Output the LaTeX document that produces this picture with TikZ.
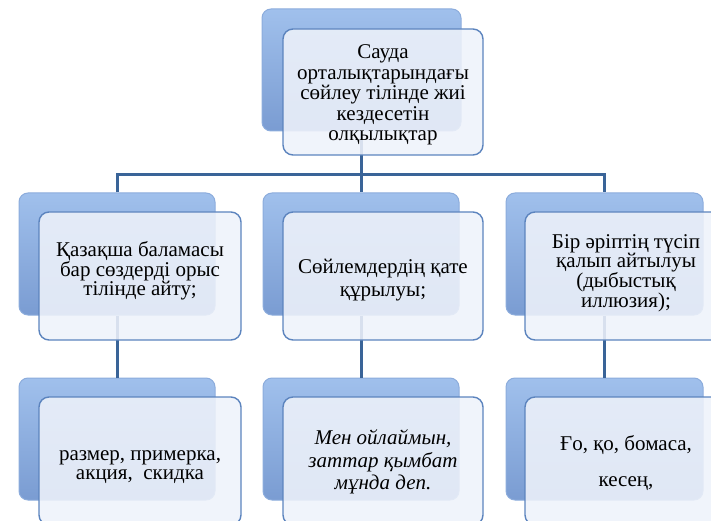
\documentclass[tikz,border=0pt]{standalone}
\usepackage{fontspec}
\setmainfont{Liberation Serif}
\definecolor{connc}{RGB}{58,100,152}
\definecolor{frontedge}{RGB}{92,132,190}
\definecolor{frontfill}{RGB}{238,242,250}
\definecolor{backtop}{RGB}{160,192,236}
\definecolor{backbot}{RGB}{122,156,210}
\definecolor{backedge}{RGB}{140,172,220}
\newcommand{\tightlines}[1]{\fontsize{21}{#1}\selectfont\lineskiplimit=-100pt\lineskip=0pt}
\begin{document}
\begin{tikzpicture}[x=1pt,y=-1pt,
  backbox/.style={rectangle, rounded corners=9pt, draw=backedge, line width=1pt,
    top color=backtop, bottom color=backbot, inner sep=0pt},
  frontbox/.style={rectangle, rounded corners=10pt, draw=frontedge, line width=1.4pt,
    fill=frontfill, fill opacity=0.88, inner sep=0pt},
  txt/.style={align=center, inner sep=0pt, font=\tightlines{19.7}},
  conn/.style={draw=connc, line width=3pt}]
\useasboundingbox (0,0) rectangle (711,521);
\clip (0,0) rectangle (711,521);
% back boxes
\node[backbox, minimum width=199pt, minimum height=122pt] (tb) at (361.5,70) {};
\node[backbox, minimum width=196pt, minimum height=122pt] (b1) at (117,254) {};
\node[backbox, minimum width=196pt, minimum height=122pt] (b2) at (361,254) {};
\node[backbox, minimum width=197pt, minimum height=122pt] (b3) at (604.5,254) {};
\node[backbox, minimum width=196pt, minimum height=122pt] (c1) at (117,439) {};
\node[backbox, minimum width=196pt, minimum height=122pt] (c2) at (361,439) {};
\node[backbox, minimum width=197pt, minimum height=122pt] (c3) at (604.5,439) {};
% connectors
\coordinate (bus) at (361,175);
\draw[conn] (tb.south) -- (tb.south |- bus);
\draw[conn] (b1.north) |- (b2.north |- bus) -| (b3.north);
\draw[conn] (b2.north |- bus) -- (b2.north);
\draw[conn] (b1.south) -- (c1.north);
\draw[conn] (b2.south) -- (c2.north);
\draw[conn] (b3.south) -- (c3.north);
% front boxes
\node[frontbox, minimum width=200pt, minimum height=126pt] (tf) at (383,92) {};
\node[frontbox, minimum width=202pt, minimum height=128pt] (f1) at (140,276) {};
\node[frontbox, minimum width=200pt, minimum height=128pt] (f2) at (383,276) {};
\node[frontbox, minimum width=202pt, minimum height=128pt] (f3) at (626,276) {};
\node[frontbox, minimum width=202pt, minimum height=128pt] (d1) at (140,461) {};
\node[frontbox, minimum width=200pt, minimum height=128pt] (d2) at (383,461) {};
\node[frontbox, minimum width=202pt, minimum height=128pt] (d3) at (626,461) {};
% texts
\node[txt, font=\tightlines{20.5}] (ttf) at (383,95)
  {Сауда\\орталықтарындағы\\сөйлеу тілінде жиі\\кездесетін\\олқылықтар};
\node[txt] (tf1) at (140,271)
  {Қазақша баламасы\\бар сөздерді орыс\\тілінде айту;};
\node[txt, font=\tightlines{23}] (tf2) at (383,280)
  {Сөйлемдердің қате\\құрылуы;};
\node[txt] (tf3) at (626,273)
  {Бір әріптің түсіп\\қалып айтылуы\\(дыбыстық\\иллюзия);};
\node[txt] (td1) at (140,467)
  {размер, примерка,\\акция,\ \ скидка};
\node[txt, font=\tightlines{22.5}\itshape] (td2) at (383,462)
  {Мен ойлаймын,\\заттар қымбат\\мұнда деп.};
\node[txt] (td3) at (626,463)
  {Ғо, қо, бомаса,\\[16pt]кесең,};
\end{tikzpicture}
\end{document}
